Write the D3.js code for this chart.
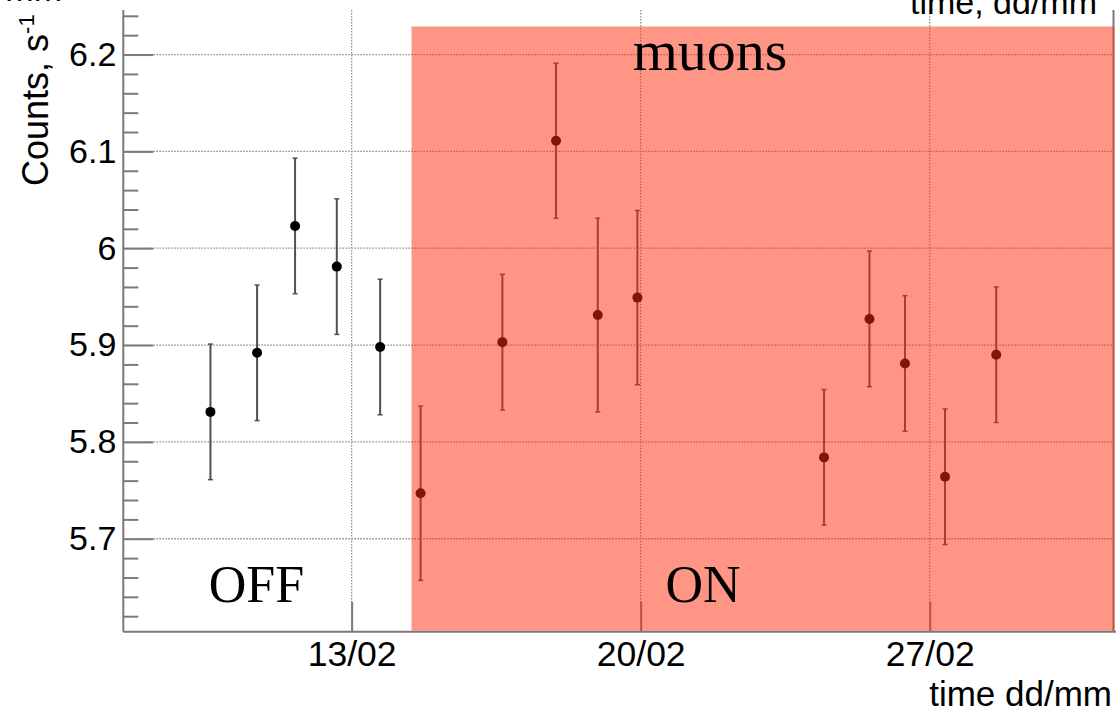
<!DOCTYPE html>
<html>
<head>
<meta charset="utf-8">
<script src="https://cdn.jsdelivr.net/npm/d3@7"></script>
<style>
  html, body { margin: 0; padding: 0; background: #fff; }
  svg { display: block; }
</style>
</head>
<body>
<script>
// ---- data ----
const days   = [9.58, 10.71, 11.63, 12.64, 13.69, 14.67, 16.65, 17.95, 18.96, 19.92, 24.44, 25.54, 26.40, 27.37, 28.61];
const counts = [5.831, 5.892, 6.023, 5.981, 5.898, 5.747, 5.903, 6.111, 5.931, 5.949, 5.784, 5.927, 5.881, 5.764, 5.890];
const errors = [0.070, 0.070, 0.070, 0.070, 0.070, 0.090, 0.070, 0.080, 0.100, 0.090, 0.070, 0.070, 0.070, 0.070, 0.070];
const xTickDays   = [13, 20, 27];
const xTickLabels = ["13/02", "20/02", "27/02"];
const yMajorTicks = [5.7, 5.8, 5.9, 6.0, 6.1, 6.2];
const yMinorTicks = [5.62, 5.64, 5.66, 5.68, 5.72, 5.74, 5.76, 5.78, 5.82, 5.84, 5.86, 5.88,
                     5.92, 5.94, 5.96, 5.98, 6.02, 6.04, 6.06, 6.08, 6.12, 6.14, 6.16, 6.18, 6.22, 6.24];
const yTickLabels = ["5.7", "5.8", "5.9", "6", "6.1", "6.2"];
const xDomain = [7.47, 31.45];
const yDomain = [5.604, 6.246];
const onStartDay = 14.45;   // start of the shaded "ON" period
const onTopValue = 6.229;   // top of the shaded band

const W = 1116, H = 712;
const svg = d3.select("body").append("svg").attr("width", W).attr("height", H);

const x = d3.scaleLinear().domain(xDomain).range([123.3, 1113.5]);
const y = d3.scaleLinear().domain(yDomain).range([631.7, 10]);
const [x0, x1] = x.range();
const [yb, yt] = y.range();

const sans = "'Liberation Sans', Arial, Helvetica, sans-serif";
const serif = "'Liberation Serif', 'Times New Roman', serif";
const axisGray = "#7a7a7a";

// ---- grid ----
const grid = svg.append("g");
grid.selectAll("line.h").data(yMajorTicks).join("line")
  .attr("x1", x0).attr("x2", x1)
  .attr("y1", d => y(d)).attr("y2", d => y(d))
  .attr("stroke", "#8f8f8f").attr("stroke-width", 1.3).attr("stroke-dasharray", "1.6,1.4");
grid.selectAll("line.v").data(xTickDays).join("line")
  .attr("x1", d => x(d)).attr("x2", d => x(d))
  .attr("y1", yt).attr("y2", yb)
  .attr("stroke", "#8f8f8f").attr("stroke-width", 1.3).attr("stroke-dasharray", "1.6,1.4");

// ---- axes ----
const yAxisMinor = d3.axisLeft(y).tickValues(yMinorTicks).tickSize(-15).tickFormat("");
const yAxisMajor = d3.axisLeft(y).tickValues(yMajorTicks).tickSize(-30).tickPadding(7)
  .tickFormat((d, i) => yTickLabels[i]);
const xAxis = d3.axisBottom(x).tickValues(xTickDays).tickSize(-30).tickPadding(9)
  .tickFormat((d, i) => xTickLabels[i]);

function styleAxis(g, fs) {
  g.select(".domain").attr("stroke", axisGray).attr("stroke-width", 2);
  g.selectAll(".tick line").attr("stroke", axisGray).attr("stroke-width", 2);
  g.selectAll(".tick text").attr("fill", "#000").attr("font-family", sans).attr("font-size", fs);
}
const gyMin = svg.append("g").attr("transform", `translate(${x0},0)`).call(yAxisMinor);
styleAxis(gyMin, 30);
gyMin.select(".domain").remove();
const gy = svg.append("g").attr("transform", `translate(${x0},0)`).call(yAxisMajor);
styleAxis(gy, 34);
gy.select(".domain").attr("d", `M0,${yt}V${yb}`);
const gx = svg.append("g").attr("transform", `translate(0,${yb})`).call(xAxis);
styleAxis(gx, 35.5);
gx.select(".domain").attr("d", `M${x0},0H${W}`);

// right frame line
svg.append("line").attr("x1", x1).attr("x2", x1).attr("y1", yt).attr("y2", yb)
  .attr("stroke", axisGray).attr("stroke-width", 2);

// ---- data points ----
const pts = days.map((d, i) => ({ d, v: counts[i], e: errors[i] }));
const pg = svg.append("g");
pg.selectAll("line.err").data(pts).join("line")
  .attr("x1", p => x(p.d)).attr("x2", p => x(p.d))
  .attr("y1", p => y(p.v + p.e)).attr("y2", p => y(p.v - p.e))
  .attr("stroke", "#505050").attr("stroke-width", 2);
pg.selectAll("line.capT").data(pts).join("line")
  .attr("x1", p => x(p.d) - 2.5).attr("x2", p => x(p.d) + 2.5)
  .attr("y1", p => y(p.v + p.e)).attr("y2", p => y(p.v + p.e))
  .attr("stroke", "#505050").attr("stroke-width", 1.5);
pg.selectAll("line.capB").data(pts).join("line")
  .attr("x1", p => x(p.d) - 2.5).attr("x2", p => x(p.d) + 2.5)
  .attr("y1", p => y(p.v - p.e)).attr("y2", p => y(p.v - p.e))
  .attr("stroke", "#505050").attr("stroke-width", 1.5);
pg.selectAll("circle").data(pts).join("circle")
  .attr("cx", p => x(p.d)).attr("cy", p => y(p.v)).attr("r", 5)
  .attr("fill", "#000");

// ---- ON band (semi-transparent overlay) ----
svg.append("rect")
  .attr("x", x(onStartDay)).attr("y", y(onTopValue))
  .attr("width", x1 + 1 - x(onStartDay)).attr("height", yb - 1 - y(onTopValue))
  .attr("fill", "rgb(255,45,11)").attr("fill-opacity", 0.5);

// ---- texts ----
svg.append("text").attr("x", 710).attr("y", 70).attr("text-anchor", "middle")
  .attr("font-family", serif).attr("font-size", 58).attr("fill", "#000").text("muons");
svg.append("text").attr("x", 256.5).attr("y", 602).attr("text-anchor", "middle")
  .attr("font-family", serif).attr("font-size", 52).attr("fill", "#000").text("OFF");
svg.append("text").attr("x", 703).attr("y", 602).attr("text-anchor", "middle")
  .attr("font-family", serif).attr("font-size", 52).attr("fill", "#000").text("ON");

svg.append("text").attr("x", 1112).attr("y", 706).attr("text-anchor", "end")
  .attr("font-family", sans).attr("font-size", 35).attr("fill", "#000").text("time dd/mm");
svg.append("text").attr("x", 1097).attr("y", 14).attr("text-anchor", "end")
  .attr("font-family", sans).attr("font-size", 34).attr("fill", "#000").text("time, dd/mm");
svg.append("text").attr("x", 62).attr("y", 1).attr("text-anchor", "end")
  .attr("font-family", sans).attr("font-size", 34).attr("fill", "#000").text("time, dd/mm");

const yl = svg.append("text")
  .attr("transform", "translate(48,186) rotate(-90)")
  .attr("font-family", sans).attr("font-size", 36).attr("fill", "#000");
yl.append("tspan").text("Counts, s");
yl.append("tspan").attr("dy", -14).attr("font-size", 22).text("-1");
</script>
</body>
</html>
